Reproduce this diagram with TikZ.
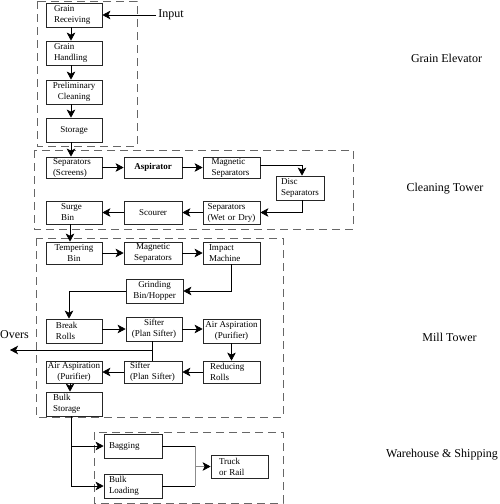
\documentclass[tikz,border=0pt]{standalone}
\usepackage{fontspec}
\setmainfont{Liberation Serif}
\usetikzlibrary{arrows.meta}
\begin{document}
\begin{tikzpicture}[x=1pt,y=-1pt,
  box/.style={draw=black!85, line width=0.7pt, minimum height=24pt, minimum width=56pt, inner sep=0pt, font=\fontsize{9}{11}\selectfont, align=center},
  lbox/.style={box, text width=#1, align=left},
  conn/.style={draw=black, line width=0.7pt},
  arr/.style={conn, -{Stealth[length=8pt,width=8.5pt,inset=2pt]}},
  zone/.style={draw=black!60, line width=0.8pt, dash pattern=on 8pt off 5pt},
  lab/.style={font=\fontsize{12}{14}\selectfont, inner sep=0pt}]
\useasboundingbox (0,0) rectangle (500,504);

% zones
\draw[zone] (37,1) rectangle (137,146);
\draw[zone] (34,150) rectangle (353,229);
\draw[zone] (36,238) rectangle (283,417);
\draw[zone] (94,432) rectangle (283,503);

% Grain elevator
\node[lbox=40] (recv) at (74,15) {Grain\\Receiving};
\node[lbox=40] (hand) at (74,53) {Grain\\Handling};
\node[box] (prel) at (74,92) {Preliminary\\Cleaning};
\node[box] (stor) at (74,130) {Storage};

% Cleaning tower
\node[lbox=42, minimum height=21pt] (seps) at (74,167.5) {Separators\\(Screens)};
\node[box, minimum width=58pt, minimum height=21pt, font=\fontsize{9}{11}\selectfont\bfseries] (asp) at (153,167.5) {Aspirator};
\node[lbox=40, minimum width=57pt, minimum height=21pt] (mags) at (231.5,167.5) {Magnetic\\Separators};
\node[lbox=38, minimum width=48pt] (disc) at (300,188) {Disc\\Separators};
\node[lbox=48, minimum width=57pt, minimum height=23pt] (sepw) at (231.5,212.5) {Separators\\(Wet or Dry)};
\node[box, minimum width=58pt, minimum height=23pt] (scour) at (153,212.5) {Scourer};
\node[lbox=26, minimum height=23pt] (surge) at (74,212.5) {Surge\\Bin};

% Mill tower
\node[box, minimum height=22pt] (temp) at (74,253) {Tempering\\Bin};
\node[box, minimum width=58pt, minimum height=22pt] (mag2) at (153,253) {Magnetic\\Separators};
\node[lbox=45, minimum width=57pt, minimum height=22pt] (impact) at (231.5,253) {Impact\\Machine};
\node[box, minimum width=57pt] (grind) at (154.5,291) {Grinding\\Bin/Hopper};
\node[lbox=36] (brk) at (74,331) {Break\\Rolls};
\node[box] (sift1) at (154,329) {Sifter\\(Plan Sifter)};
\node[box, minimum width=57pt] (air1) at (231.5,331) {Air Aspiration\\(Purifier)};
\node[lbox=43, minimum width=57pt, minimum height=22pt] (red) at (231.5,372) {Reducing\\Rolls};
\node[lbox=46, minimum width=58pt, minimum height=22pt] (sift2) at (153,372) {Sifter\\(Plan Sifter)};
\node[box, minimum height=22pt] (air2) at (74,372) {Air Aspiration\\(Purifier)};
\node[lbox=42] (bulks) at (74,404) {Bulk\\Storage};

% Warehouse
\node[lbox=48, minimum width=58pt] (bag) at (133,446) {Bagging};
\node[lbox=48, minimum width=58pt] (bulkl) at (133,486) {Bulk\\Loading};
\node[lbox=41, minimum width=57pt, minimum height=23pt] (truck) at (239.5,466.5) {Truck\\or Rail};

% labels
\node[lab] (input) at (171,15) {Input};
\node[lab] (ge) at (446.5,58) {Grain Elevator};
\node[lab] (ct) at (445,189) {Cleaning Tower};
\node[lab] (mt) at (449.5,337) {Mill Tower};
\node[lab] (ws) at (442,455) {Warehouse \& Shipping};
\node[lab] (overs) at (14.5,335) {Overs};

% connectors
\draw[arr] ([xshift=-2pt]input.west) -- (recv.east);
\draw[arr] ([xshift=-3pt]recv.south) -- ([xshift=-3pt]hand.north);
\draw[arr] ([xshift=-3pt]hand.south) -- ([xshift=-3pt]prel.north);
\draw[arr] ([xshift=-3pt]prel.south) -- ([xshift=-3pt]stor.north);
\draw[arr] ([xshift=-3pt]stor.south) -- ([xshift=-3pt]seps.north);
\draw[arr] (seps) -- (asp);
\draw[arr] (asp) -- (mags);
\draw[arr] ([yshift=2pt]mags.east) -| ([xshift=2pt]disc.north);
\draw[arr] ([xshift=2pt]disc.south) |- (sepw.east);
\draw[arr] (sepw) -- (scour);
\draw[arr] (scour) -- (surge);
\draw[arr] ([xshift=-4pt]surge.south) -- ([xshift=-4pt]temp.north);
\draw[arr] (temp) -- (mag2);
\draw[arr] (mag2) -- (impact);
\draw[arr] (impact.south) |- (grind.east);
\draw[arr] (grind.west) -| ([xshift=-5pt]brk.north);
\draw[arr] (brk.east |- sift1.west) -- (sift1.west);
\draw[arr] (sift1.east) -- (sift1.east -| air1.west);
\draw[arr] (air1) -- (red);
\draw[arr] (red) -- (sift2);
\draw[arr] (sift2) -- (air2);
\draw[arr] ([xshift=-4pt]air2.south) -- ([xshift=-4pt]bulks.north);
\coordinate (ovr) at (10,350);
\draw[conn] ([xshift=-2pt]sift1.south) -- ([xshift=-2pt]sift1.south |- sift2.north);
\draw[arr] ([xshift=-2pt]sift1.south |- ovr) -- (ovr);
\draw[arr] ([xshift=-3pt]bulks.south) |- (bag.west);
\draw[arr] ([xshift=-3pt]bulks.south) |- (bulkl.west);
\coordinate (jt) at (195,446);
\coordinate (jb) at (195,486);
\coordinate (jm) at (195,466.5);
\draw[conn] (bag.east) -- (jt);
\draw[conn] (bulkl.east) -- (jb);
\draw[conn, draw=black!45] (jt) -- (jb);
\draw[conn, draw=black!45, -{Stealth[length=8pt,width=8.5pt,inset=2pt,black]}] (jm) -- (truck.west);
\end{tikzpicture}
\end{document}
